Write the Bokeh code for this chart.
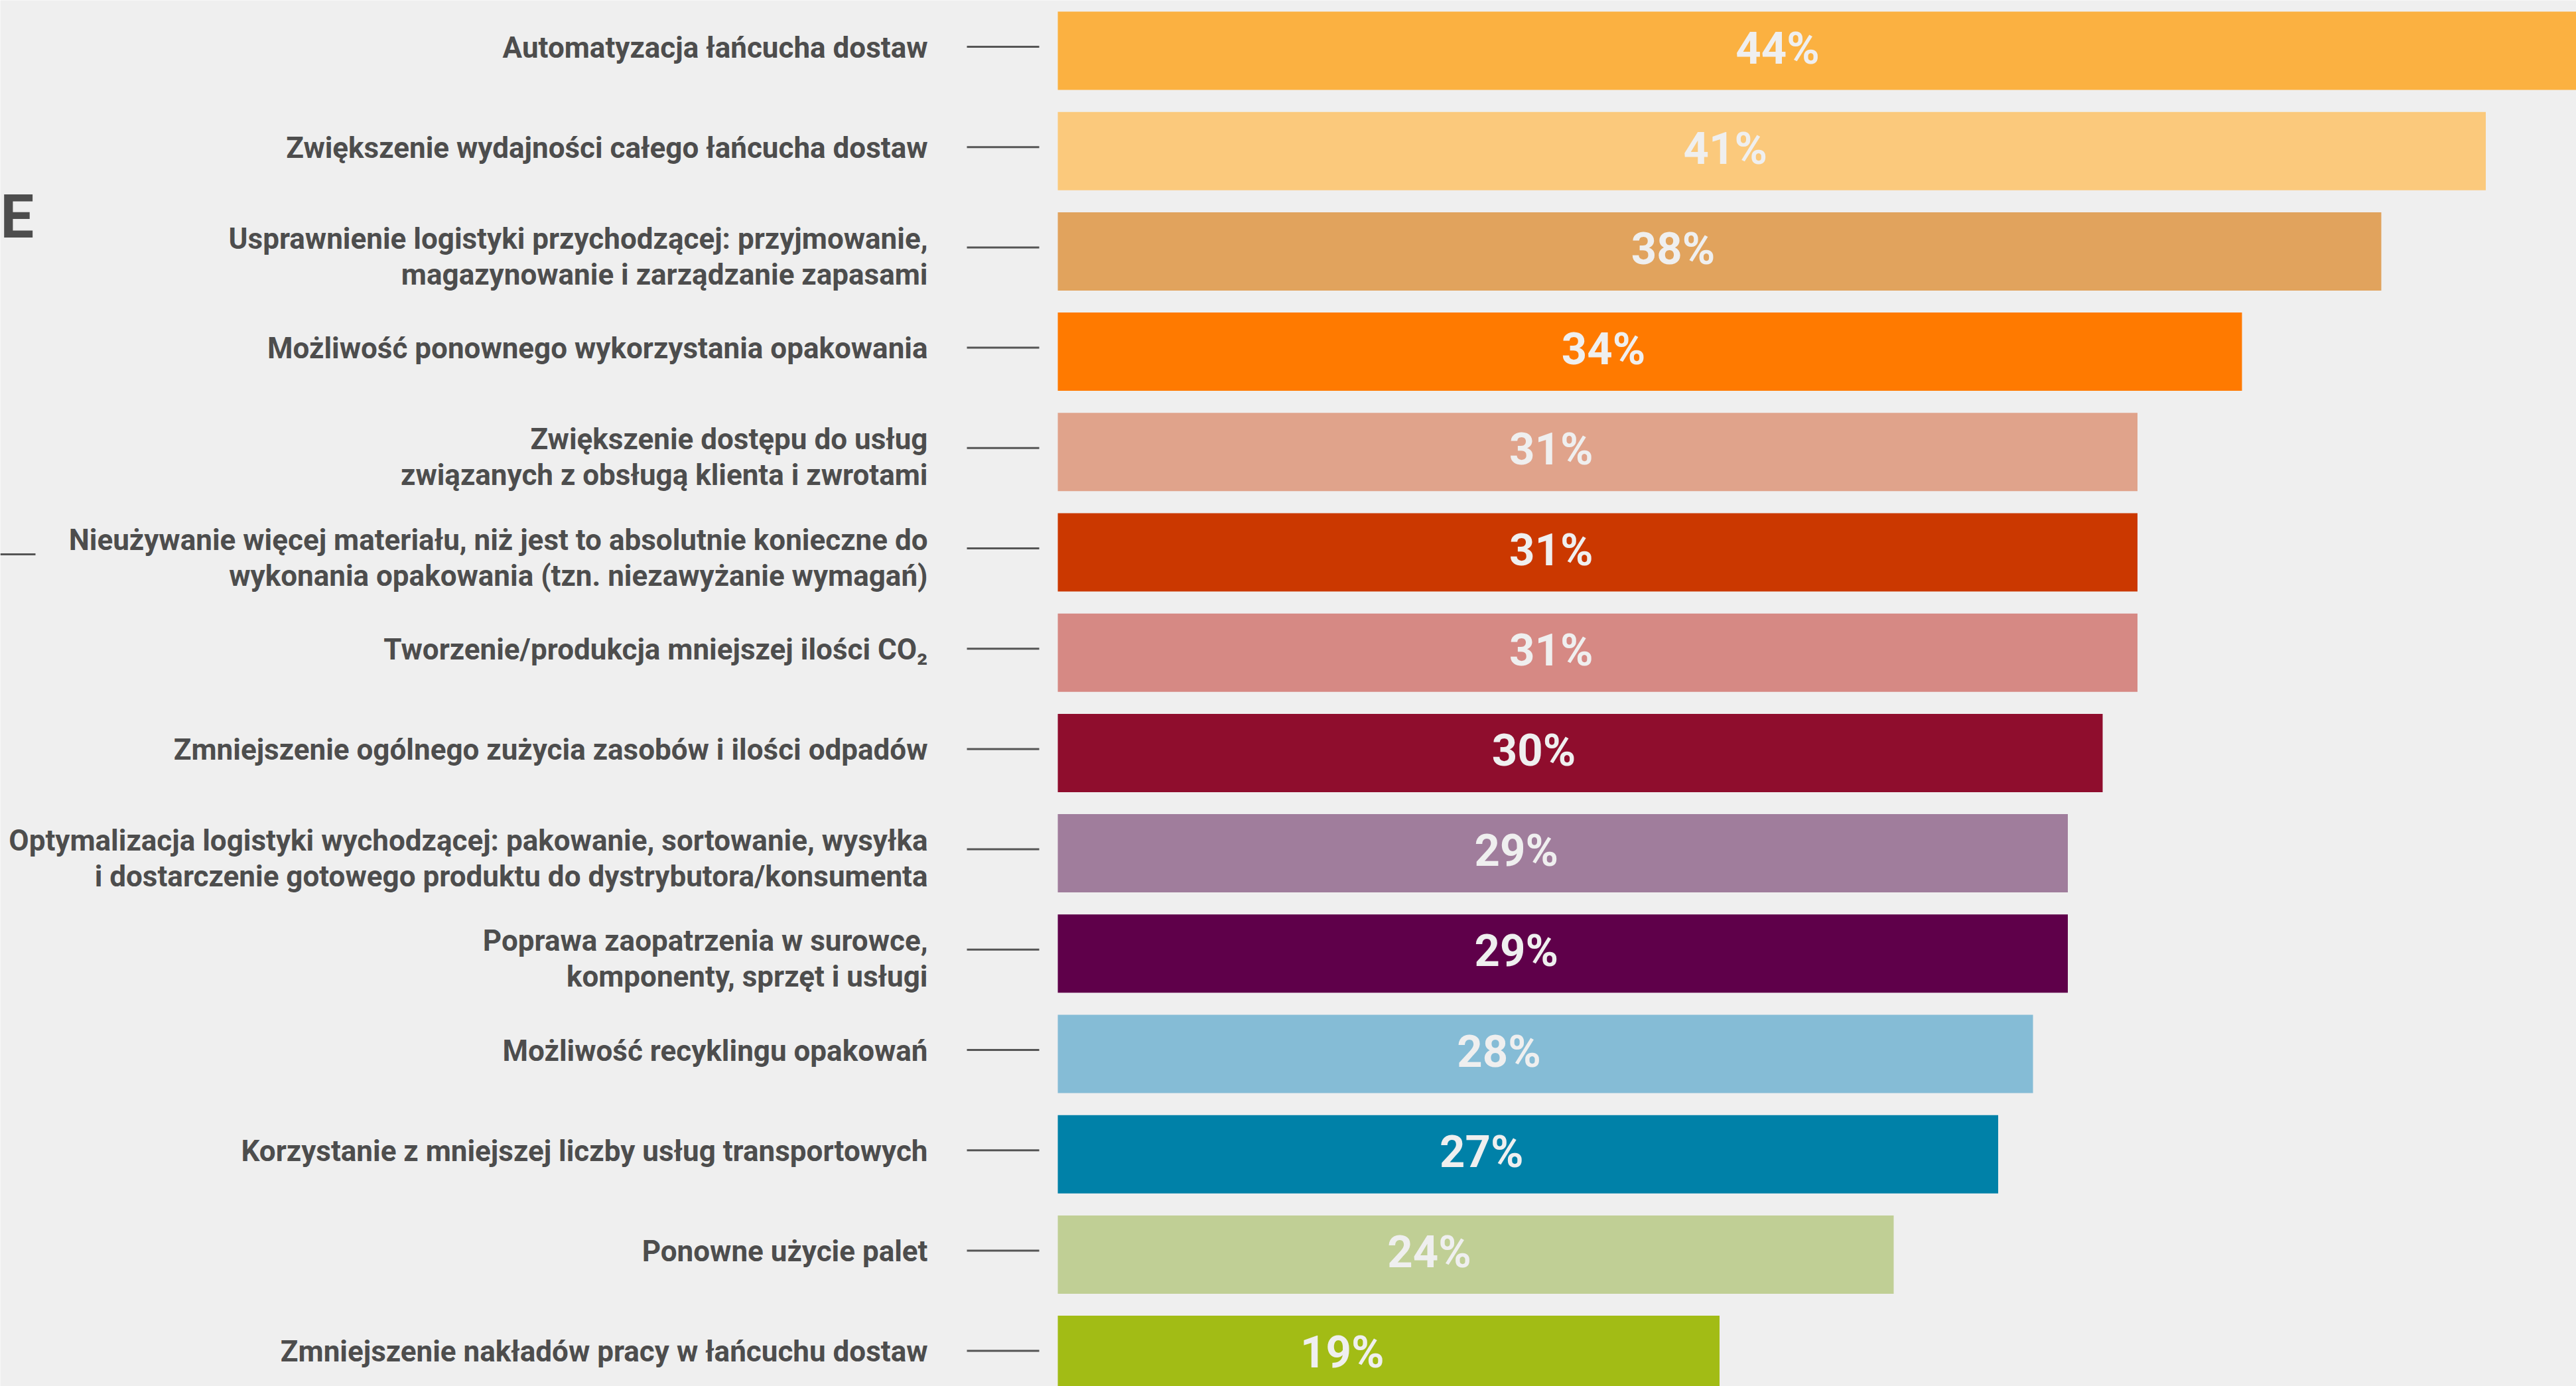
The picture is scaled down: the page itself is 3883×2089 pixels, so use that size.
from bokeh.plotting import figure
from bokeh.models import Range1d, ColumnDataSource
from bokeh.core.properties import value
from bokeh.embed import file_html
from bokeh.resources import INLINE

# ---------------- data ----------------
categories = [
    "Automatyzacja łańcucha dostaw",
    "Zwiększenie wydajności całego łańcucha dostaw",
    "Usprawnienie logistyki przychodzącej: przyjmowanie,\nmagazynowanie i zarządzanie zapasami",
    "Możliwość ponownego wykorzystania opakowania",
    "Zwiększenie dostępu do usług\nzwiązanych z obsługą klienta i zwrotami",
    "Nieużywanie więcej materiału, niż jest to absolutnie konieczne do\nwykonania opakowania (tzn. niezawyżanie wymagań)",
    "Tworzenie/produkcja mniejszej ilości CO₂",
    "Zmniejszenie ogólnego zużycia zasobów i ilości odpadów",
    "Optymalizacja logistyki wychodzącej: pakowanie, sortowanie, wysyłka\ni dostarczenie gotowego produktu do dystrybutora/konsumenta",
    "Poprawa zaopatrzenia w surowce,\nkomponenty, sprzęt i usługi",
    "Możliwość recyklingu opakowań",
    "Korzystanie z mniejszej liczby usług transportowych",
    "Ponowne użycie palet",
    "Zmniejszenie nakładów pracy w łańcuchu dostaw",
]
values = [44, 41, 38, 34, 31, 31, 31, 30, 29, 29, 28, 27, 24, 19]
value_labels = ["44%", "41%", "38%", "34%", "31%", "31%", "31%", "30%", "29%", "29%", "28%", "27%", "24%", "19%"]
colors = ["#FBB141", "#FBC97C", "#E1A35D", "#FF7A00", "#E0A38B", "#CB3800",
          "#D68984", "#8F0D2D", "#A07D9C", "#5F004A", "#85BCD6", "#0081A8",
          "#C0CF95", "#A2BC15"]

# ---------------- layout constants (pixels) ----------------
W, H = 3883, 2089
PX_PER_PCT = 52.5
ZERO_PX = 1594              # x pixel of 0% inside figure
ROW_PX = 151.2
FIRST_CENTER_PX = 76
BAR_PX = 118

x0 = -ZERO_PX / PX_PER_PCT
x1 = x0 + W / PX_PER_PCT
ytop = -FIRST_CENTER_PX / ROW_PX
ybot = ytop + H / ROW_PX

BG = "#EFEFEF"
TXT = "#4D4D4D"
FONT = value("Roboto")

p = figure(width=W, height=H, output_backend="svg", toolbar_location=None,
           x_range=Range1d(x0, x1), y_range=Range1d(ybot, ytop),
           x_axis_location=None, y_axis_location=None, min_border=0,
           background_fill_color=BG, border_fill_color=BG, outline_line_color=None)
p.xgrid.visible = False
p.ygrid.visible = False

pos = list(range(len(values)))
src = ColumnDataSource(dict(y=pos, v=values, c=colors, lab=value_labels,
                            half=[v / 2 for v in values]))

p.hbar(y="y", left=0, right="v", height=BAR_PX / ROW_PX, fill_color="c",
       line_color=None, source=src)

p.text(x="half", y="y", text="lab", source=src, text_font=FONT,
       text_font_style="bold", text_font_size="67px", text_color=BG,
       text_align="center", text_baseline="middle", x_offset=-70, y_offset=-4)

# tick marks between labels and bars
tick_y = [i - 6 / ROW_PX for i in pos]
p.segment(x0=[-137 / PX_PER_PCT] * len(pos), x1=[-28 / PX_PER_PCT] * len(pos),
          y0=tick_y, y1=tick_y, line_color="#555555", line_width=3)

# category labels (split into lines)
ly, lt, lo = [], [], []
for i, cat in enumerate(categories):
    parts = cat.split("\n")
    offs = [-5] if len(parts) == 1 else [-19, 35]
    for t, o in zip(parts, offs):
        lt.append(t); ly.append(i); lo.append(o)
lsrc = ColumnDataSource(dict(x=[0] * len(lt), y=ly, t=lt, o=lo))
p.text(x="x", y="y", text="t", y_offset="o", source=lsrc, x_offset=-196,
       text_font=FONT, text_font_style="bold", text_font_size="44px",
       text_color=TXT, text_align="right", text_baseline="middle")

# fragments of the neighbouring panel on the far left
p.text(x=[x0], y=[(327 - FIRST_CENTER_PX) / ROW_PX], text=["E"],
       text_font=FONT, text_font_style="bold", text_font_size="90px",
       text_color=TXT, text_align="left", text_baseline="middle", x_offset=0)
p.segment(x0=[x0], x1=[(53 - ZERO_PX) / PX_PER_PCT],
          y0=[(835 - FIRST_CENTER_PX) / ROW_PX], y1=[(835 - FIRST_CENTER_PX) / ROW_PX],
          line_color="#555555", line_width=3)

open("out.html", "w").write(file_html(p, INLINE))
